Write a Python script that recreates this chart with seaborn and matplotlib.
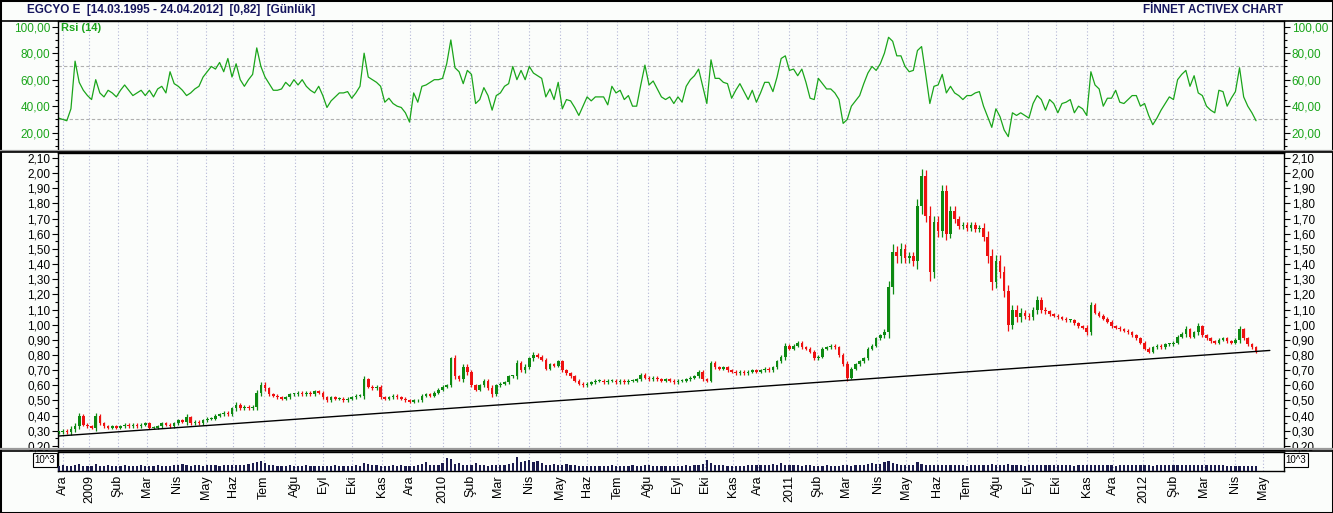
import numpy as np
import pandas as pd
import matplotlib
matplotlib.use("Agg")
import matplotlib.pyplot as plt
import seaborn as sns
from matplotlib.lines import Line2D
from matplotlib.patches import Rectangle
from matplotlib.ticker import MultipleLocator, FixedLocator, FuncFormatter

# ---------------- data ----------------
months = ['Ara', '2009', 'Şub', 'Mar', 'Nis', 'May', 'Haz', 'Tem', 'Ağu', 'Eyl', 'Eki', 'Kas', 'Ara',
          '2010', 'Şub', 'Mar', 'Nis', 'May', 'Haz', 'Tem', 'Ağu', 'Eyl', 'Eki', 'Kas', 'Ara',
          '2011', 'Şub', 'Mar', 'Nis', 'May', 'Haz', 'Tem', 'Ağu', 'Eyl', 'Eki', 'Kas', 'Ara',
          '2012', 'Şub', 'Mar', 'Nis', 'May']
# trading days per month (Dec 2008 .. Apr 2012)
month_days = [19, 21, 21, 22, 21, 20, 22, 23, 20, 21, 22, 20, 24,
              20, 20, 23, 22, 20, 22, 22, 21, 21, 20, 18, 23,
              20, 21, 23, 21, 22, 22, 22, 22, 21, 22, 19, 22,
              22, 22, 23, 20]
first_day, last_day = -3, 867   # sample span in trading days (0 = 1 Dec 2008)

close = [0.29, 0.30, 0.29, 0.31, 0.33, 0.40, 0.34, 0.33, 0.32, 0.40,
         0.35, 0.33, 0.32, 0.33, 0.32, 0.33, 0.34, 0.33, 0.34, 0.33,
         0.34, 0.35, 0.32, 0.32, 0.33, 0.35, 0.34, 0.33, 0.35, 0.37,
         0.36, 0.39, 0.35, 0.36, 0.35, 0.37, 0.38, 0.38, 0.40, 0.41,
         0.42, 0.41, 0.45, 0.47, 0.45, 0.46, 0.45, 0.46, 0.55, 0.60,
         0.58, 0.54, 0.53, 0.52, 0.51, 0.52, 0.54, 0.54, 0.55, 0.54,
         0.55, 0.54, 0.56, 0.55, 0.52, 0.50, 0.52, 0.51, 0.51, 0.50,
         0.51, 0.52, 0.53, 0.53, 0.64, 0.59, 0.58, 0.59, 0.52, 0.51,
         0.52, 0.53, 0.52, 0.51, 0.50, 0.49, 0.50, 0.50, 0.53, 0.54,
         0.53, 0.55, 0.57, 0.59, 0.60, 0.78, 0.66, 0.64, 0.72, 0.69,
         0.60, 0.57, 0.60, 0.63, 0.58, 0.54, 0.60, 0.61, 0.62, 0.66,
         0.66, 0.75, 0.70, 0.72, 0.78, 0.80, 0.79, 0.77, 0.71, 0.74,
         0.73, 0.76, 0.70, 0.68, 0.66, 0.63, 0.61, 0.60, 0.61, 0.62,
         0.63, 0.63, 0.62, 0.63, 0.63, 0.62, 0.63, 0.62, 0.63, 0.63,
         0.64, 0.67, 0.65, 0.64, 0.65, 0.64, 0.63, 0.64, 0.63, 0.62,
         0.63, 0.63, 0.64, 0.65, 0.66, 0.69, 0.64, 0.63, 0.75, 0.72,
         0.71, 0.72, 0.70, 0.69, 0.68, 0.69, 0.68, 0.69, 0.70, 0.69,
         0.70, 0.71, 0.70, 0.72, 0.76, 0.79, 0.86, 0.84, 0.86, 0.88,
         0.85, 0.84, 0.82, 0.78, 0.79, 0.84, 0.85, 0.86, 0.85, 0.80,
         0.74, 0.65, 0.71, 0.74, 0.76, 0.78, 0.84, 0.86, 0.91, 0.93,
         0.95, 1.25, 1.48, 1.45, 1.50, 1.44, 1.45, 1.42, 1.78, 1.98,
         1.72, 1.35, 1.68, 1.62, 1.88, 1.60, 1.75, 1.70, 1.65, 1.66,
         1.64, 1.66, 1.63, 1.64, 1.58, 1.45, 1.28, 1.42, 1.35, 1.22,
         1.00, 1.10, 1.05, 1.08, 1.06, 1.05, 1.10, 1.16, 1.10, 1.09,
         1.07, 1.06, 1.05, 1.04, 1.03, 1.03, 1.01, 0.99, 0.98, 0.95,
         1.13, 1.08, 1.06, 1.04, 1.02, 0.99, 0.98, 0.97, 0.96, 0.95,
         0.93, 0.91, 0.88, 0.84, 0.82, 0.85, 0.86, 0.85, 0.87, 0.87,
         0.88, 0.92, 0.94, 0.97, 0.92, 0.95, 0.99, 0.93, 0.91, 0.89,
         0.88, 0.90, 0.91, 0.89, 0.88, 0.90, 0.97, 0.91, 0.87, 0.85, 0.82]

# high/low wick extension beyond the candle body, in kuruş
wick = [1, 1, 1, 2, 2, 2, 1, 1, 1, 2,
        1, 1, 1, 1, 1, 1, 1, 1, 1, 1,
        1, 1, 1, 1, 1, 1, 1, 1, 1, 1,
        1, 2, 1, 1, 1, 1, 1, 1, 1, 1,
        1, 1, 1, 2, 1, 1, 1, 1, 2, 2,
        2, 1, 1, 1, 1, 1, 1, 1, 1, 1,
        1, 1, 1, 1, 1, 1, 1, 1, 1, 1,
        1, 1, 1, 1, 2, 1, 1, 1, 1, 1,
        1, 1, 1, 1, 1, 1, 1, 1, 1, 1,
        1, 1, 1, 1, 1, 1, 2, 1, 2, 2,
        1, 1, 1, 1, 1, 2, 1, 1, 1, 1,
        1, 2, 1, 2, 1, 2, 1, 1, 1, 1,
        1, 1, 1, 1, 1, 1, 1, 1, 1, 1,
        1, 1, 1, 1, 1, 1, 1, 1, 1, 1,
        1, 1, 1, 1, 1, 1, 1, 1, 1, 1,
        1, 1, 1, 1, 1, 1, 1, 1, 1, 1,
        1, 1, 1, 1, 1, 1, 1, 1, 1, 1,
        1, 1, 1, 1, 1, 1, 2, 1, 1, 1,
        1, 1, 1, 1, 1, 1, 1, 1, 1, 1,
        1, 2, 1, 1, 1, 1, 1, 1, 1, 1,
        2, 4, 5, 4, 4, 3, 3, 3, 5, 5,
        4, 6, 4, 4, 4, 4, 3, 3, 2, 2,
        2, 2, 2, 2, 3, 4, 5, 4, 4, 4,
        4, 3, 3, 3, 2, 2, 2, 3, 2, 2,
        1, 1, 1, 1, 1, 1, 1, 1, 1, 2,
        2, 1, 1, 1, 1, 1, 1, 1, 1, 1,
        1, 1, 1, 1, 1, 1, 1, 1, 1, 1,
        1, 1, 1, 2, 1, 1, 2, 1, 1, 1,
        1, 1, 1, 1, 1, 1, 2, 1, 1, 1, 1]

rsi = [31, 30, 29, 38, 74, 58, 52, 48, 45, 60,
       50, 47, 52, 50, 47, 52, 56, 52, 48, 50,
       52, 48, 52, 47, 53, 55, 50, 66, 57, 55,
       52, 48, 50, 53, 55, 62, 66, 70, 68, 73,
       66, 76, 62, 72, 60, 55, 60, 64, 84, 70,
       62, 57, 52, 52, 53, 58, 55, 60, 56, 60,
       55, 52, 50, 55, 48, 39, 44, 47, 50, 50,
       51, 46, 50, 55, 80, 62, 60, 58, 55, 43,
       46, 42, 40, 39, 35, 28, 50, 43, 55, 56,
       58, 60, 60, 61, 72, 90, 69, 66, 57, 67,
       64, 42, 45, 54, 48, 37, 48, 50, 55, 57,
       70, 60, 67, 60, 70, 65, 63, 61, 47, 53,
       45, 58, 38, 45, 44, 39, 33, 40, 47, 44,
       47, 47, 47, 41, 55, 50, 52, 45, 48, 40,
       40, 56, 71, 56, 59, 53, 47, 45, 47, 42,
       47, 43, 55, 60, 63, 68, 55, 42, 75, 61,
       61, 58, 57, 46, 52, 57, 51, 45, 52, 43,
       50, 58, 58, 51, 62, 76, 78, 67, 68, 63,
       68, 58, 46, 45, 61, 57, 53, 53, 50, 45,
       27, 30, 40, 44, 48, 57, 65, 70, 67, 72,
       80, 92, 89, 78, 78, 70, 66, 67, 82, 85,
       64, 42, 55, 56, 64, 50, 55, 50, 48, 45,
       48, 48, 50, 51, 40, 32, 24, 38, 32, 22,
       17, 35, 33, 35, 33, 31, 42, 48, 45, 37,
       45, 42, 35, 42, 43, 45, 35, 40, 38, 33,
       66, 56, 53, 40, 46, 46, 52, 43, 42, 45,
       48, 48, 40, 42, 33, 26, 31, 37, 42, 47,
       45, 60, 64, 67, 55, 63, 50, 48, 40, 37,
       35, 52, 51, 40, 46, 51, 69, 47, 40, 35, 29]

volume = [5, 6, 5, 5, 6, 7, 5, 5, 5, 7,
          5, 5, 6, 5, 5, 5, 6, 5, 5, 5,
          6, 5, 5, 5, 6, 5, 5, 5, 6, 6,
          7, 6, 5, 6, 6, 5, 6, 6, 6, 5,
          6, 6, 6, 6, 6, 6, 7, 8, 10, 11,
          8, 6, 6, 5, 5, 5, 6, 5, 5, 5,
          6, 5, 5, 5, 5, 5, 5, 6, 5, 5,
          5, 5, 6, 5, 8, 7, 6, 6, 5, 5,
          5, 6, 5, 6, 5, 5, 5, 6, 7, 10,
          6, 6, 6, 8, 14, 13, 7, 8, 6, 6,
          6, 8, 6, 6, 5, 6, 6, 6, 6, 7,
          8, 15, 9, 11, 12, 9, 11, 8, 6, 6,
          7, 6, 6, 7, 6, 6, 5, 5, 5, 5,
          5, 5, 5, 5, 6, 5, 5, 5, 5, 6,
          5, 5, 6, 6, 5, 5, 5, 5, 5, 5,
          5, 5, 6, 5, 6, 6, 7, 12, 8, 6,
          6, 6, 5, 5, 5, 5, 5, 6, 6, 6,
          6, 6, 6, 7, 6, 8, 6, 6, 6, 6,
          5, 6, 6, 5, 5, 5, 6, 5, 5, 5,
          6, 6, 5, 6, 6, 6, 7, 8, 7, 7,
          9, 11, 8, 7, 6, 6, 6, 6, 9, 7,
          6, 6, 6, 6, 6, 6, 6, 6, 6, 6,
          5, 6, 6, 6, 6, 6, 7, 6, 6, 6,
          7, 6, 6, 6, 5, 6, 6, 6, 6, 6,
          6, 6, 6, 6, 6, 6, 5, 6, 6, 6,
          6, 6, 6, 6, 6, 6, 5, 6, 6, 6,
          6, 6, 6, 6, 6, 5, 6, 6, 6, 6,
          6, 6, 6, 6, 6, 6, 6, 6, 6, 6,
          6, 6, 6, 5, 5, 5, 5, 5, 5, 5, 5]

trend_days = [-3.4, 877]
trend_vals = [0.265, 0.83]

# ---------------- style ----------------
sns.set_theme(style="white")
plt.rcParams['font.family'] = ['Liberation Sans', 'DejaVu Sans']

W, H = 1333, 513
BG = '#fbfdfb'
GREEN_RSI = '#1aa51a'
NAVY = '#16165e'
UP = '#0d8a12'
DOWN = '#ee1111'
GRID = '#b3b6d6'

fig = plt.figure(figsize=(W / 100, H / 100), dpi=100)
fig.patch.set_facecolor(BG)


def rect(x0, y0, x1, y1):
    return [x0 / W, 1 - y1 / H, (x1 - x0) / W, (y1 - y0) / H]


ax_r = fig.add_axes(rect(58, 21, 1284, 152))
ax_p = fig.add_axes(rect(58, 153, 1284, 450))
ax_v = fig.add_axes(rect(58, 452, 1284, 471))

n = len(close)
x = np.linspace(first_day, last_day, n)
month_pos = np.concatenate([[0], np.cumsum(month_days)])
xlim = (-3.4, 887.3)

# ---------------- RSI ----------------
df_r = pd.DataFrame({'day': x, 'rsi': rsi})
sns.lineplot(data=df_r, x='day', y='rsi', ax=ax_r, color=GREEN_RSI, lw=0.9)
ax_r.axhline(70, color='#b0b0b0', ls=(0, (3, 2)), lw=0.8, zorder=1)
ax_r.axhline(30, color='#b0b0b0', ls=(0, (3, 2)), lw=0.8, zorder=1)
ax_r.set_ylim(5.4, 104.3)
ax_r.yaxis.set_major_locator(FixedLocator([20, 40, 60, 80, 100]))
ax_r.yaxis.set_minor_locator(MultipleLocator(5))
ax_r.yaxis.set_major_formatter(FuncFormatter(lambda v, p: f"{v:.2f}".replace('.', ',')))

# ---------------- price candles ----------------
cl = np.array(close)
op = np.r_[cl[0], cl[:-1]]
up = cl >= op
bottom = np.minimum(op, cl)
top = np.maximum(op, cl)
wk = np.array(wick) / 100.0
height = np.maximum(top - bottom, 0.006)
colors = np.where(up, UP, DOWN)
ax_p.vlines(x, bottom - wk, top + wk, colors=colors, lw=0.9, zorder=3)
ax_p.bar(x[up], height[up], bottom=bottom[up], width=1.9, color=UP, linewidth=0, zorder=3)
ax_p.bar(x[~up], height[~up], bottom=bottom[~up], width=1.9, color=DOWN, linewidth=0, zorder=3)
ax_p.plot(trend_days, trend_vals, color='black', lw=1.0, zorder=4)
ax_p.set_ylim(0.173, 2.133)
ax_p.yaxis.set_major_locator(FixedLocator(np.round(np.arange(0.2, 2.101, 0.1), 2)))
ax_p.yaxis.set_minor_locator(MultipleLocator(0.05))
ax_p.yaxis.set_major_formatter(FuncFormatter(lambda v, p: f"{v:.2f}".replace('.', ',')))

# ---------------- volume ----------------
ax_v.bar(x, volume, width=1.6, color='#1b1b4d', linewidth=0, zorder=3)
ax_v.set_ylim(0, 20)
ax_v.set_yticks([])

# ---------------- common axis styling ----------------
for ax in (ax_r, ax_p, ax_v):
    ax.set_facecolor(BG)
    ax.set_xlim(*xlim)
    ax.set_xlabel('')
    ax.set_ylabel('')
    for pos in month_pos:
        ax.axvline(pos, color=GRID, ls=(0, (1, 2)), lw=0.8, zorder=0)
    for s in ax.spines.values():
        s.set_color('black')
        s.set_linewidth(1.0)
    ax.tick_params(axis='y', which='both', left=True, right=True, labelleft=True,
                   labelright=True, direction='out', colors='black', labelsize=8.5, pad=1.5)
    ax.tick_params(axis='y', which='major', length=4, width=0.8)
    ax.tick_params(axis='y', which='minor', length=2.5, width=0.8)

ax_r.tick_params(axis='y', which='both', labelcolor=GREEN_RSI, color='black')
for ax in (ax_r, ax_p):
    ax.set_xticks([])
ax_v.set_xticks(month_pos)
ax_v.set_xticklabels(months, rotation=90, fontsize=9, color='black')
ax_v.tick_params(axis='x', which='both', bottom=True, length=0, pad=3)
ax_v.tick_params(axis='y', which='both', left=False, right=False, labelleft=False, labelright=False)

# ---------------- frame lines / separators ----------------
for yy, col, lw in [(21, 'black', 1.2), (150.5, '#9a9a9a', 1.6), (152.3, 'black', 1.2),
                    (449.3, '#9a9a9a', 1.6), (451.2, 'black', 1.2)]:
    fig.add_artist(Line2D([0, 1], [1 - yy / H] * 2, color=col, lw=lw, transform=fig.transFigure))
fig.add_artist(Rectangle((0, 0), 1, 1, transform=fig.transFigure, fill=False, ec='black', lw=2.2))

# ---------------- texts ----------------
fig.text(27 / W, 1 - 10 / H, 'EGCYO E  [14.03.1995 - 24.04.2012]  [0,82]  [Günlük]',
         ha='left', va='center', fontsize=8.5, fontweight='bold', color=NAVY)
fig.text(1283 / W, 1 - 10 / H, 'FİNNET ACTIVEX CHART', ha='right', va='center',
         fontsize=8.5, fontweight='bold', color=NAVY)
fig.text(61 / W, 1 - 28 / H, 'Rsi (14)', ha='left', va='center', fontsize=8,
         fontweight='bold', color=GREEN_RSI)
for xx in (45, 1296):
    fig.text(xx / W, 1 - 460 / H, '10^3', ha='center', va='center', fontsize=7, color='black',
             bbox=dict(boxstyle='square,pad=0.2', fc='white', ec='black', lw=0.8))

fig.savefig('out.png', dpi=100, facecolor=BG)
